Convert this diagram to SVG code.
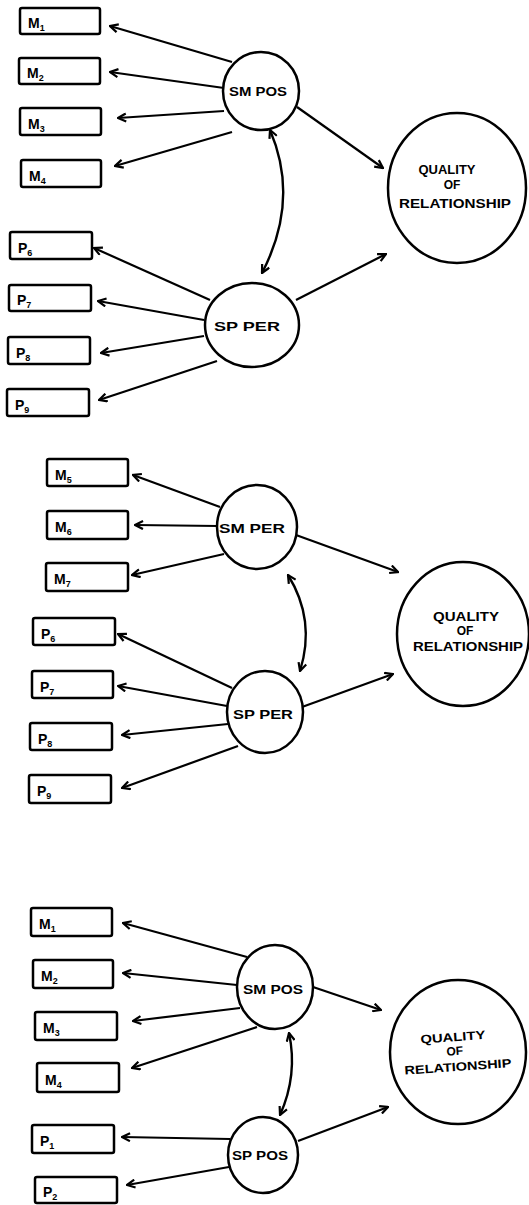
<svg xmlns="http://www.w3.org/2000/svg" width="529" height="1205" viewBox="0 0 529 1205">
  <style>
    .box { fill: #fff; stroke: #000; stroke-width: 2.5; }
    .node { fill: #fff; stroke: #000; stroke-width: 2.5; }
    .lbl { font-family: "Liberation Sans", Arial, sans-serif; font-weight: bold; font-size: 14px; fill: #000; }
    .sub { font-size: 9px; }
    .cap { font-family: "Liberation Sans", Arial, sans-serif; font-weight: bold; font-size: 12px; fill: #000; text-anchor: middle; }
    .edge { fill: none; stroke: #000; stroke-width: 2.2; marker-end: url(#ah); }
    .both { fill: none; stroke: #000; stroke-width: 2.4; marker-start: url(#ah); marker-end: url(#ah); }
  </style>
  <defs>
    <marker id="ah" viewBox="0 0 10 10" refX="9" refY="5" markerWidth="10" markerHeight="10" markerUnits="userSpaceOnUse" orient="auto-start-reverse">
      <path d="M1,1 L9,5 L1,9" fill="none" stroke="#000" stroke-width="2.2" stroke-linejoin="miter"/>
    </marker>
  </defs>
  <rect width="529" height="1205" fill="#fff"/>

  <!-- connectors -->
  <g id="connectors">
    <!-- model 1 -->
    <line class="edge" x1="232" y1="62" x2="110" y2="26"/>
    <line class="edge" x1="224" y1="88" x2="110" y2="72"/>
    <line class="edge" x1="224" y1="111" x2="118" y2="118"/>
    <line class="edge" x1="232" y1="132" x2="115" y2="166"/>
    <line class="edge" x1="297" y1="107" x2="383" y2="168"/>
    <line class="edge" x1="296" y1="300" x2="386" y2="254"/>
    <path class="both" d="M270,130 Q300,200 262,273"/>
    <line class="edge" x1="210" y1="300" x2="94" y2="248"/>
    <line class="edge" x1="204" y1="320" x2="98" y2="301"/>
    <line class="edge" x1="204" y1="336" x2="101" y2="353"/>
    <line class="edge" x1="217" y1="361" x2="99" y2="400"/>
    <!-- model 2 -->
    <line class="edge" x1="220" y1="507" x2="133" y2="475"/>
    <line class="edge" x1="218" y1="526" x2="135" y2="525"/>
    <line class="edge" x1="224" y1="554" x2="132" y2="575"/>
    <line class="edge" x1="296" y1="535" x2="398" y2="572"/>
    <path class="both" d="M288,575 Q316,620 300,671"/>
    <line class="edge" x1="232" y1="688" x2="118" y2="634"/>
    <line class="edge" x1="227" y1="706" x2="118" y2="686"/>
    <line class="edge" x1="228" y1="724" x2="122" y2="735"/>
    <line class="edge" x1="238" y1="746" x2="122" y2="788"/>
    <line class="edge" x1="302" y1="707" x2="393" y2="674"/>
    <!-- model 3 -->
    <line class="edge" x1="247" y1="957" x2="123" y2="923"/>
    <line class="edge" x1="237" y1="985" x2="123" y2="973"/>
    <line class="edge" x1="240" y1="1008" x2="133" y2="1021"/>
    <line class="edge" x1="257" y1="1027" x2="132" y2="1068"/>
    <line class="edge" x1="313" y1="987" x2="381" y2="1010"/>
    <path class="both" d="M289,1033 Q298,1075 280,1115"/>
    <line class="edge" x1="230" y1="1139" x2="122" y2="1137"/>
    <line class="edge" x1="229" y1="1167" x2="127" y2="1185"/>
    <line class="edge" x1="298" y1="1141" x2="388" y2="1107"/>
  </g>

  <!-- model 1 nodes -->
  <g id="m1-M1"><rect class="box" x="20" y="8" width="80" height="26" rx="2"/><text class="lbl" x="28" y="28">M<tspan class="sub" dy="3">1</tspan></text></g>
  <g id="m1-M2"><rect class="box" x="19" y="58" width="81" height="26" rx="2"/><text class="lbl" x="27" y="78">M<tspan class="sub" dy="3">2</tspan></text></g>
  <g id="m1-M3"><rect class="box" x="20" y="108" width="81" height="27" rx="2"/><text class="lbl" x="28" y="129">M<tspan class="sub" dy="3">3</tspan></text></g>
  <g id="m1-M4"><rect class="box" x="21" y="160" width="80" height="27" rx="2"/><text class="lbl" x="29" y="181">M<tspan class="sub" dy="3">4</tspan></text></g>
  <g id="m1-P6"><rect class="box" x="10" y="232" width="82" height="27" rx="2"/><text class="lbl" x="18" y="253">P<tspan class="sub" dy="3">6</tspan></text></g>
  <g id="m1-P7"><rect class="box" x="9" y="285" width="82" height="26" rx="2"/><text class="lbl" x="17" y="305">P<tspan class="sub" dy="3">7</tspan></text></g>
  <g id="m1-P8"><rect class="box" x="8" y="337" width="82" height="27" rx="2"/><text class="lbl" x="16" y="358">P<tspan class="sub" dy="3">8</tspan></text></g>
  <g id="m1-P9"><rect class="box" x="7" y="389" width="82" height="27" rx="2"/><text class="lbl" x="15" y="410">P<tspan class="sub" dy="3">9</tspan></text></g>
  <g id="m1-smpos"><ellipse class="node" cx="261" cy="91" rx="38" ry="39"/><text class="cap" x="258" y="96" textLength="58" lengthAdjust="spacingAndGlyphs">SM POS</text></g>
  <g id="m1-spper"><ellipse class="node" cx="252" cy="325" rx="47" ry="42"/><text class="cap" x="247" y="331" textLength="66" lengthAdjust="spacingAndGlyphs">SP PER</text></g>
  <g id="m1-quality"><ellipse class="node" cx="457" cy="188" rx="69" ry="75"/>
    <text class="cap" x="447" y="174" textLength="57" lengthAdjust="spacingAndGlyphs">QUALITY</text>
    <text class="cap" x="452" y="189">OF</text>
    <text class="cap" x="455" y="208" textLength="112" lengthAdjust="spacingAndGlyphs">RELATIONSHIP</text></g>

  <!-- model 2 nodes -->
  <g id="m2-M5"><rect class="box" x="47" y="459" width="81" height="27" rx="2"/><text class="lbl" x="55" y="480">M<tspan class="sub" dy="3">5</tspan></text></g>
  <g id="m2-M6"><rect class="box" x="47" y="511" width="81" height="28" rx="2"/><text class="lbl" x="55" y="532">M<tspan class="sub" dy="3">6</tspan></text></g>
  <g id="m2-M7"><rect class="box" x="46" y="563" width="82" height="28" rx="2"/><text class="lbl" x="54" y="584">M<tspan class="sub" dy="3">7</tspan></text></g>
  <g id="m2-P6"><rect class="box" x="33" y="618" width="82" height="27" rx="2"/><text class="lbl" x="41" y="639">P<tspan class="sub" dy="3">6</tspan></text></g>
  <g id="m2-P7"><rect class="box" x="32" y="671" width="81" height="27" rx="2"/><text class="lbl" x="40" y="692">P<tspan class="sub" dy="3">7</tspan></text></g>
  <g id="m2-P8"><rect class="box" x="30" y="723" width="82" height="27" rx="2"/><text class="lbl" x="38" y="744">P<tspan class="sub" dy="3">8</tspan></text></g>
  <g id="m2-P9"><rect class="box" x="29" y="775" width="82" height="28" rx="2"/><text class="lbl" x="37" y="796">P<tspan class="sub" dy="3">9</tspan></text></g>
  <g id="m2-smper"><ellipse class="node" cx="257" cy="527" rx="40" ry="42"/><text class="cap" x="252" y="533" textLength="66" lengthAdjust="spacingAndGlyphs">SM PER</text></g>
  <g id="m2-spper"><ellipse class="node" cx="265" cy="712" rx="38" ry="41"/><text class="cap" x="263" y="719" textLength="60" lengthAdjust="spacingAndGlyphs">SP PER</text></g>
  <g id="m2-quality"><ellipse class="node" cx="463" cy="634" rx="66" ry="72"/>
    <text class="cap" x="466" y="621" textLength="66" lengthAdjust="spacingAndGlyphs">QUALITY</text>
    <text class="cap" x="465" y="635">OF</text>
    <text class="cap" x="468" y="651" textLength="110" lengthAdjust="spacingAndGlyphs">RELATIONSHIP</text></g>

  <!-- model 3 nodes -->
  <g id="m3-M1"><rect class="box" x="31" y="908" width="81" height="28" rx="2"/><text class="lbl" x="39" y="929">M<tspan class="sub" dy="3">1</tspan></text></g>
  <g id="m3-M2"><rect class="box" x="33" y="960" width="80" height="28" rx="2"/><text class="lbl" x="41" y="981">M<tspan class="sub" dy="3">2</tspan></text></g>
  <g id="m3-M3"><rect class="box" x="35" y="1012" width="82" height="28" rx="2"/><text class="lbl" x="43" y="1033">M<tspan class="sub" dy="3">3</tspan></text></g>
  <g id="m3-M4"><rect class="box" x="37" y="1063" width="82" height="29" rx="2"/><text class="lbl" x="45" y="1085">M<tspan class="sub" dy="3">4</tspan></text></g>
  <g id="m3-P1"><rect class="box" x="32" y="1125" width="82" height="28" rx="2"/><text class="lbl" x="40" y="1146">P<tspan class="sub" dy="3">1</tspan></text></g>
  <g id="m3-P2"><rect class="box" x="35" y="1177" width="82" height="26" rx="2"/><text class="lbl" x="43" y="1197">P<tspan class="sub" dy="3">2</tspan></text></g>
  <g id="m3-smpos"><ellipse class="node" cx="275" cy="987" rx="38" ry="42"/><text class="cap" x="273" y="994" textLength="60" lengthAdjust="spacingAndGlyphs">SM POS</text></g>
  <g id="m3-sppos"><ellipse class="node" cx="263" cy="1155" rx="35" ry="38"/><text class="cap" x="260" y="1160" textLength="56" lengthAdjust="spacingAndGlyphs">SP POS</text></g>
  <g id="m3-quality"><ellipse class="node" cx="458" cy="1052" rx="68" ry="72"/>
    <g transform="rotate(-4 456 1054)">
      <text class="cap" x="454" y="1041" textLength="65" lengthAdjust="spacingAndGlyphs">QUALITY</text>
      <text class="cap" x="455" y="1055">OF</text>
      <text class="cap" x="457" y="1071" textLength="107" lengthAdjust="spacingAndGlyphs">RELATIONSHIP</text>
    </g></g>
</svg>
